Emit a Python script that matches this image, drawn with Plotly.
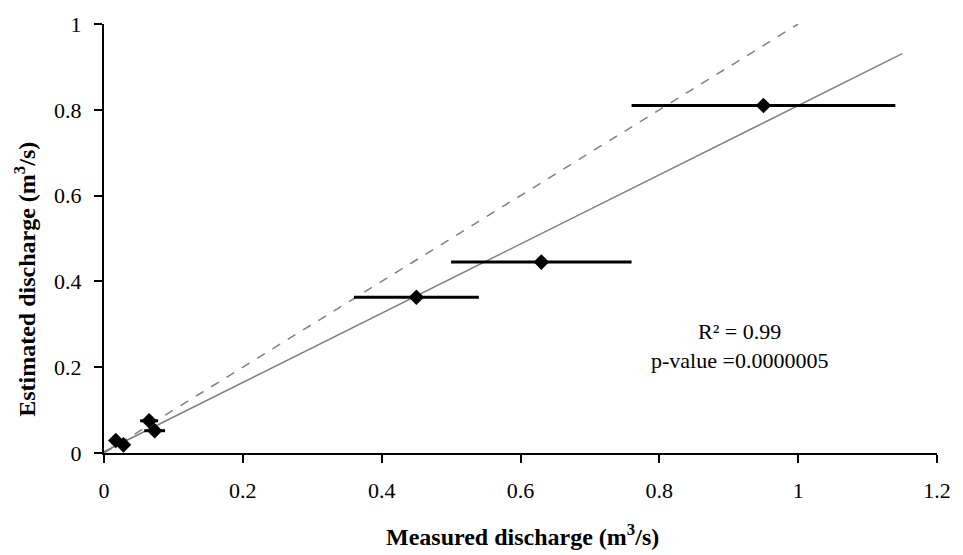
import plotly.graph_objects as go

# Data
measured = [0.017, 0.028, 0.065, 0.073, 0.45, 0.63, 0.95]
estimated = [0.029, 0.019, 0.075, 0.052, 0.363, 0.445, 0.81]
measured_err = [0.004, 0.006, 0.013, 0.015, 0.09, 0.13, 0.19]

one_to_one_x = [0, 1]
one_to_one_y = [0, 1]
fit_x = [0, 1.15]
fit_y = [0.003, 0.931]

x_ticks = [0, 0.2, 0.4, 0.6, 0.8, 1, 1.2]
x_tick_labels = ["0", "0.2", "0.4", "0.6", "0.8", "1", "1.2"]
y_ticks = [0, 0.2, 0.4, 0.6, 0.8, 1]
y_tick_labels = ["0", "0.2", "0.4", "0.6", "0.8", "1"]

x_title = "<b>Measured discharge (m<sup>3</sup>/s)</b>"
y_title = "<b>Estimated discharge (m<sup>3</sup>/s)</b>"
stats_text = "R² = 0.99<br>p-value =0.0000005"

FONT = "Liberation Serif, Times New Roman, serif"
W, H = 963, 555
ML, MR, MT, MB = 104, 20, 16, 102

fig = go.Figure()
fig.add_trace(go.Scatter(x=one_to_one_x, y=one_to_one_y, mode="lines",
                         line=dict(color="#808080", width=1.5, dash="dash"),
                         showlegend=False, hoverinfo="skip"))
fig.add_trace(go.Scatter(x=fit_x, y=fit_y, mode="lines",
                         line=dict(color="#808080", width=1.5),
                         showlegend=False, hoverinfo="skip"))
fig.add_trace(go.Scatter(x=measured, y=estimated, mode="markers",
                         marker=dict(symbol="diamond", size=12, color="black"),
                         error_x=dict(type="data", array=measured_err, visible=True,
                                      color="black", thickness=3, width=0),
                         showlegend=False))

fig.add_annotation(x=0.915, y=0.25, xref="x", yref="y",
                   text=stats_text, showarrow=False,
                   font=dict(family=FONT, size=22, color="black"), align="center")

# axis titles placed as annotations (pixel-based paper coords)
plot_w = W - ML - MR
plot_h = H - MT - MB
fig.add_annotation(x=(526 - ML) / plot_w, y=(H - MB - 537) / plot_h,
                   xref="paper", yref="paper", text=x_title, showarrow=False,
                   font=dict(family=FONT, size=24, color="black"),
                   xanchor="center", yanchor="middle")
fig.add_annotation(x=(25 - ML) / plot_w, y=(H - MB - 276) / plot_h,
                   xref="paper", yref="paper", text=y_title, showarrow=False,
                   textangle=-90,
                   font=dict(family=FONT, size=24, color="black"),
                   xanchor="center", yanchor="middle")

fig.update_layout(
    width=W, height=H,
    margin=dict(l=ML, r=MR, t=MT, b=MB),
    plot_bgcolor="white", paper_bgcolor="white",
    font=dict(family=FONT, size=22, color="black"),
)
fig.update_xaxes(range=[0, 1.2], tickvals=x_ticks, ticktext=x_tick_labels,
                 showgrid=False, zeroline=False, showline=True, linecolor="black",
                 linewidth=2, ticks="outside", ticklen=8, tickwidth=1.5, tickcolor="black",
                 tickfont=dict(family=FONT, size=22), ticklabelstandoff=9)
fig.update_yaxes(range=[0, 1], tickvals=y_ticks, ticktext=y_tick_labels,
                 showgrid=False, zeroline=False, showline=True, linecolor="black",
                 linewidth=2, ticks="outside", ticklen=8, tickwidth=1.5, tickcolor="black",
                 tickfont=dict(family=FONT, size=22), ticklabelstandoff=8)

fig.write_html("out.html")
